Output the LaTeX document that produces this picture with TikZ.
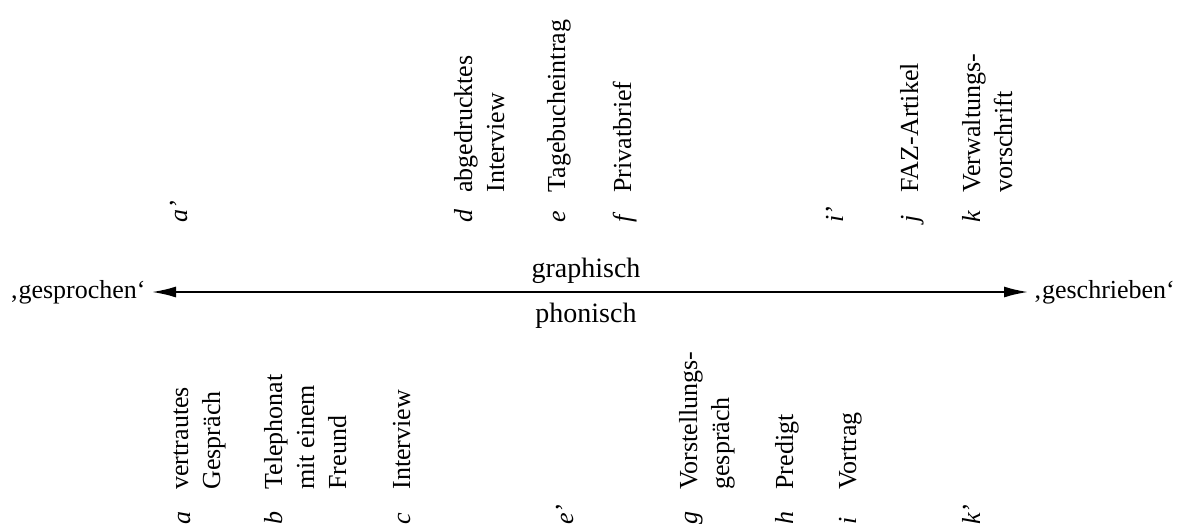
\documentclass[tikz,border=0pt]{standalone}
\usepackage{fontspec}
\setmainfont{Liberation Serif}
\usetikzlibrary{arrows.meta}
\begin{document}
\begin{tikzpicture}[x=0.5pt,y=-0.5pt,
  lab/.style={rotate=90, anchor=base west, inner sep=0pt, align=left,
    font=\fontsize{13}{16}\selectfont},
  letr/.style={rotate=90, anchor=base west, inner sep=0pt,
    font=\fontsize{13}{16}\selectfont\itshape},
  hlab/.style={inner sep=0pt, font=\fontsize{13}{16}\selectfont},
  mlab/.style={inner sep=0pt, anchor=base, font=\fontsize{14}{16}\selectfont},
  axis/.style={line width=0.9pt, {Latex[length=12pt,width=5.5pt]}-{Latex[length=12pt,width=5.5pt]}}]
\fill[white] (0,0) rectangle (1179,531);
\useasboundingbox (0,0) rectangle (1179,531);
% axis
\node[hlab, anchor=base east] (gesp) at (146,298) {‚gesprochen‘};
\node[hlab, anchor=base west] (gesch) at (1033,298) {‚geschrieben‘};
\coordinate (AL) at (152,292);
\coordinate (AR) at (1028,292);
\draw[axis] (AL) -- (AR);
\node[mlab] (graph) at (586,277) {graphisch};
\node[mlab] (phon) at (586,322) {phonisch};
% top row (multi-line nodes are anchored at the baseline of their last line)
\node[letr] (ap) at (187,223) {a'};
\node[letr] (d) at (472,223) {d};
\node[lab] (dt) at (504,193) {abgedrucktes\\Interview};
\node[letr] (e) at (565,223) {e};
\node[lab] (et) at (565,193) {Tagebucheintrag};
\node[letr] (f) at (631,223) {f};
\node[lab] (ft) at (631,193) {Privatbrief};
\node[letr] (ip) at (843,223) {i'};
\node[letr] (j) at (918,223) {j};
\node[lab] (jt) at (918,193) {FAZ-Artikel};
\node[letr] (k) at (980,223) {k};
\node[lab] (kt) at (1012,193) {Verwaltungs-\\vorschrift};
% bottom row
\node[letr] (a) at (190,525) {a};
\node[lab] (at) at (220,490) {vertrautes\\Gespräch};
\node[letr] (b) at (282,525) {b};
\node[lab] (bt) at (346,490) {Telephonat\\mit einem\\Freund};
\node[letr] (c) at (410,525) {c};
\node[lab] (ct) at (410,490) {Interview};
\node[letr] (ep) at (573,525) {e'};
\node[letr] (g) at (697,525) {g};
\node[lab] (gt) at (729,490) {Vorstellungs-\\gespräch};
\node[letr] (h) at (793,525) {h};
\node[lab] (ht) at (793,490) {Predigt};
\node[letr] (i) at (856,525) {i};
\node[lab] (it) at (856,490) {Vortrag};
\node[letr] (kp) at (980,525) {k'};
\end{tikzpicture}
\end{document}
